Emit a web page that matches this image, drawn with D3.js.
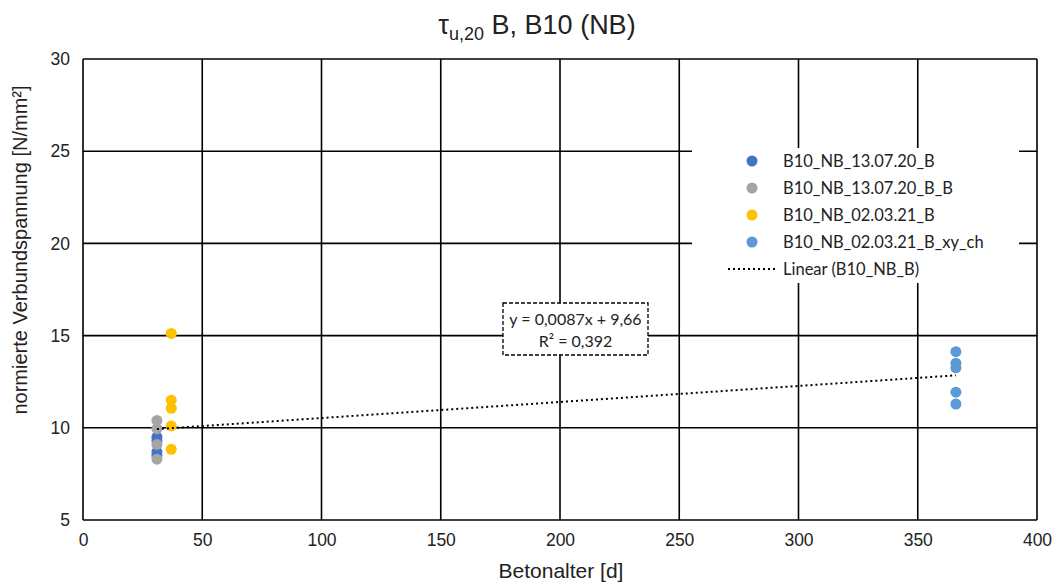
<!DOCTYPE html>
<html><head><meta charset="utf-8">
<script src="https://cdn.jsdelivr.net/npm/d3@7"></script>
<style>body{margin:0;background:#fff}svg{display:block}</style>
</head><body>
<script>
const seriesNames = ["B10_NB_13.07.20_B","B10_NB_13.07.20_B_B","B10_NB_02.03.21_B","B10_NB_02.03.21_B_xy_ch"];
const seriesColors = ["#4472C4","#A5A5A5","#FFC000","#5B9BD5"];
const s1x = [31,31,31,31];           const s1y = [9.5,9.3,8.7,8.5];
const s2x = [31,31,31,31];           const s2y = [10.4,9.95,9.1,8.3];
const s3x = [37,37,37,37,37];        const s3y = [15.12,11.5,11.06,10.1,8.83];
const s4x = [366,366,366,366,366];   const s4y = [14.13,13.5,13.25,11.93,11.29];
const trendSlope = 0.0087, trendIntercept = 9.66, trendRange = [31,366];
const xTicks = [0,50,100,150,200,250,300,350,400];
const yTicks = [5,10,15,20,25,30];

const W=1057,H=582;
const m={l:83,r:20,t:59,b:62};
const svg=d3.select("body").append("svg").attr("width",W).attr("height",H);
const x=d3.scaleLinear().domain([0,400]).range([m.l,W-m.r]);
const y=d3.scaleLinear().domain([5,30]).range([H-m.b,m.t]);
const ARIAL="Liberation Sans, Arial, sans-serif", CAL="Lato, Carlito, sans-serif";

// grid
const g=svg.append("g");
g.selectAll(".vx").data(xTicks).join("line").attr("x1",d=>x(d)).attr("x2",d=>x(d)).attr("y1",y(5)).attr("y2",y(30)).attr("stroke","#000").attr("stroke-width",1.6);
g.selectAll(".hy").data(yTicks).join("line").attr("y1",d=>y(d)).attr("y2",d=>y(d)).attr("x1",x(0)).attr("x2",x(400)).attr("stroke","#000").attr("stroke-width",1.6);

// axes labels
const xa=svg.append("g").attr("transform",`translate(0,${y(5)})`).call(d3.axisBottom(x).tickValues(xTicks).tickSize(0).tickPadding(14));
xa.select(".domain").remove();
xa.selectAll("text").attr("font-family",ARIAL).attr("font-size",17.5).attr("fill","#222");
const ya=svg.append("g").attr("transform",`translate(${x(0)},0)`).call(d3.axisLeft(y).tickValues(yTicks).tickSize(0).tickPadding(13));
ya.select(".domain").remove();
ya.selectAll("text").attr("font-family",ARIAL).attr("font-size",17.5).attr("fill","#222");

// points
const all=[[s1x,s1y],[s2x,s2y],[s3x,s3y],[s4x,s4y]];
all.forEach((s,i)=>{
  svg.append("g").selectAll("circle").data(s[0].map((v,j)=>[v,s[1][j]])).join("circle")
    .attr("cx",d=>x(d[0])).attr("cy",d=>y(d[1])).attr("r",5.5).attr("fill",seriesColors[i]);
});

// trend line
svg.append("line").attr("x1",x(trendRange[0])).attr("x2",x(trendRange[1]))
  .attr("y1",y(trendSlope*trendRange[0]+trendIntercept)).attr("y2",y(trendSlope*trendRange[1]+trendIntercept))
  .attr("stroke","#000").attr("stroke-width",2).attr("stroke-dasharray","2,3");

// trend label
const tb=svg.append("g");
tb.append("rect").attr("x",503).attr("y",303).attr("width",145).attr("height",52).attr("fill","#fff").attr("stroke","#000").attr("stroke-width",1.3).attr("stroke-dasharray","4,2");
tb.append("text").attr("x",575.5).attr("y",325).attr("text-anchor","middle").attr("font-family",CAL).attr("font-size",16).attr("fill","#222").text("y = 0,0087x + 9,66");
tb.append("text").attr("x",575.5).attr("y",347).attr("text-anchor","middle").attr("font-family",CAL).attr("font-size",16).attr("fill","#222").text("R² = 0,392");

// legend
const lg=svg.append("g");
lg.append("rect").attr("x",692).attr("y",148).attr("width",327).attr("height",135).attr("fill","#fff");
seriesNames.forEach((n,i)=>{
  const yy=161+i*27;
  lg.append("circle").attr("cx",752).attr("cy",yy).attr("r",5.5).attr("fill",seriesColors[i]);
  lg.append("text").attr("x",783).attr("y",yy+5.5).attr("font-family",CAL).attr("font-size",16.5).attr("fill","#222").text(n);
});
lg.append("line").attr("x1",728).attr("x2",776).attr("y1",269).attr("y2",269).attr("stroke","#000").attr("stroke-width",2).attr("stroke-dasharray","2,3");
lg.append("text").attr("x",783).attr("y",274.5).attr("font-family",CAL).attr("font-size",16.5).attr("fill","#222").text("Linear (B10_NB_B)");

// title
const t=svg.append("text").attr("x",537).attr("y",34).attr("text-anchor","middle").attr("font-family",ARIAL).attr("font-size",27).attr("fill","#222");
t.append("tspan").text("τ");
t.append("tspan").attr("font-size",18).attr("dy",6).text("u,20");
t.append("tspan").attr("dy",-6).text(" B, B10 (NB)");

// axis titles
svg.append("text").attr("x",561).attr("y",578).attr("text-anchor","middle").attr("font-family",ARIAL).attr("font-size",21).attr("fill","#222").text("Betonalter [d]");
svg.append("text").attr("transform",`translate(27,250) rotate(-90)`).attr("text-anchor","middle").attr("font-family",ARIAL).attr("font-size",20).attr("fill","#222").text("normierte Verbundspannung [N/mm²]");
</script>
</body></html>
